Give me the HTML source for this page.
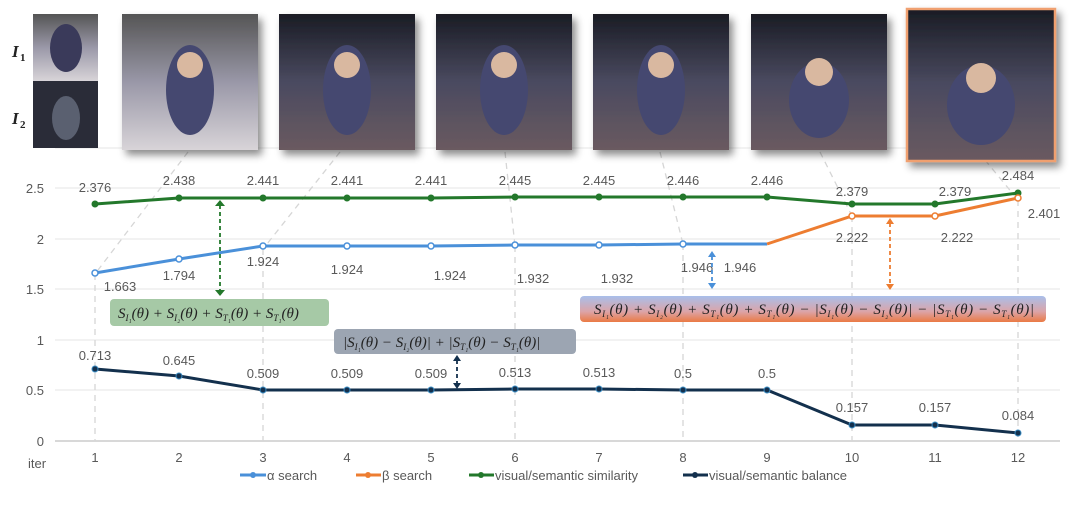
<!DOCTYPE html>
<html><head><meta charset="utf-8"><style>
body{margin:0;background:#fff;width:1080px;height:503px;overflow:hidden;font-family:"Liberation Sans",sans-serif}
</style></head><body>
<svg width="1080" height="503" viewBox="0 0 1080 503" xmlns="http://www.w3.org/2000/svg">
<defs>
<linearGradient id="g1" x1="0" y1="0" x2="0" y2="1"><stop offset="0" stop-color="#a9bfea"/><stop offset="0.6" stop-color="#dca4a8"/><stop offset="1" stop-color="#ea7a44"/></linearGradient>
<linearGradient id="im" x1="0" y1="0" x2="0" y2="1"><stop offset="0" stop-color="#1a1c24"/><stop offset="0.5" stop-color="#4a4a60"/><stop offset="1" stop-color="#6a5a60"/></linearGradient>
<linearGradient id="im1" x1="0" y1="0" x2="0" y2="1"><stop offset="0" stop-color="#555"/><stop offset="0.5" stop-color="#9a98a8"/><stop offset="1" stop-color="#d8d4d8"/></linearGradient>
<filter id="sh" x="-10%" y="-10%" width="130%" height="130%"><feDropShadow dx="4" dy="5" stdDeviation="4" flood-opacity="0.45"/></filter>
</defs>
<!-- grid -->
<g stroke="#e6e6e6" stroke-width="1">
<line x1="55" y1="188" x2="1060" y2="188"/><line x1="55" y1="239" x2="1060" y2="239"/><line x1="55" y1="289" x2="1060" y2="289"/><line x1="55" y1="340" x2="1060" y2="340"/><line x1="55" y1="390" x2="1060" y2="390"/>
<line x1="55" y1="441" x2="1060" y2="441" stroke="#d8d8d8" stroke-width="2"/>
<line x1="55" y1="148" x2="1040" y2="148"/>
</g>
<g stroke="#d6d6d6" stroke-width="1.3" stroke-dasharray="6,5" fill="none">
<line x1="188" y1="152" x2="95" y2="274"/><line x1="95" y1="274" x2="95" y2="441"/>
<line x1="340" y1="152" x2="263" y2="249"/><line x1="263" y1="249" x2="263" y2="441"/>
<line x1="505" y1="152" x2="515" y2="246"/><line x1="515" y1="246" x2="515" y2="441"/>
<line x1="660" y1="152" x2="683" y2="244"/><line x1="683" y1="244" x2="683" y2="441"/>
<line x1="820" y1="152" x2="852" y2="216"/><line x1="852" y1="216" x2="852" y2="441"/>
<line x1="985" y1="160" x2="1018" y2="200"/><line x1="1018" y1="200" x2="1018" y2="441"/>
</g>
<!-- images -->
<rect x="33" y="14" width="65" height="67" fill="url(#im1)"/>
<rect x="33" y="81" width="65" height="67" fill="#2a2c38"/>
<ellipse cx="66" cy="48" rx="16" ry="24" fill="#3a3a5a"/>
<ellipse cx="66" cy="118" rx="14" ry="22" fill="#5a6070"/>
<g filter="url(#sh)">
<rect x="122" y="14" width="136" height="136" fill="url(#im1)"/>
<rect x="279" y="14" width="136" height="136" fill="url(#im)"/>
<rect x="436" y="14" width="136" height="136" fill="url(#im)"/>
<rect x="593" y="14" width="136" height="136" fill="url(#im)"/>
<rect x="751" y="14" width="136" height="136" fill="url(#im)"/>
<rect x="907" y="9" width="148" height="152" fill="url(#im)" stroke="#f0a070" stroke-width="2.5"/>
</g>
<g fill="#454870">
<ellipse cx="190" cy="90" rx="24" ry="45"/><ellipse cx="347" cy="90" rx="24" ry="45"/><ellipse cx="504" cy="90" rx="24" ry="45"/><ellipse cx="661" cy="90" rx="24" ry="45"/><ellipse cx="819" cy="100" rx="30" ry="38"/><ellipse cx="981" cy="105" rx="34" ry="40"/>
</g>
<g fill="#d9b8a0"><circle cx="190" cy="65" r="13"/><circle cx="347" cy="65" r="13"/><circle cx="504" cy="65" r="13"/><circle cx="661" cy="65" r="13"/><circle cx="819" cy="72" r="14"/><circle cx="981" cy="78" r="15"/></g>
<g fill="#222" font-family="Liberation Serif,serif" font-weight="bold" font-style="italic" font-size="17"><text x="12" y="57">I</text><text x="12" y="124">I</text></g>
<g fill="#222" font-family="Liberation Serif,serif" font-weight="bold" font-size="11"><text x="20" y="61">1</text><text x="20" y="128">2</text></g>
<!-- axis labels -->
<g fill="#595959" font-size="13" text-anchor="end"><text x="44" y="193">2.5</text><text x="44" y="244">2</text><text x="44" y="294">1.5</text><text x="44" y="345">1</text><text x="44" y="395">0.5</text><text x="44" y="446">0</text></g>
<g fill="#595959" font-size="13" text-anchor="middle">
<text x="37" y="468">iter</text>
<text x="95" y="462">1</text><text x="179" y="462">2</text><text x="263" y="462">3</text><text x="347" y="462">4</text><text x="431" y="462">5</text><text x="515" y="462">6</text><text x="599" y="462">7</text><text x="683" y="462">8</text><text x="767" y="462">9</text><text x="852" y="462">10</text><text x="935" y="462">11</text><text x="1018" y="462">12</text>
</g>
<!-- lines -->
<polyline fill="none" stroke="#23782b" stroke-width="3" points="95,204 179,198 263,198 347,198 431,198 515,197 599,197 683,197 767,197 852,204 935,204 1018,193"/>
<g fill="#23782b"><circle cx="95" cy="204" r="3.5"/><circle cx="179" cy="198" r="3.5"/><circle cx="263" cy="198" r="3.5"/><circle cx="347" cy="198" r="3.5"/><circle cx="431" cy="198" r="3.5"/><circle cx="515" cy="197" r="3.5"/><circle cx="599" cy="197" r="3.5"/><circle cx="683" cy="197" r="3.5"/><circle cx="767" cy="197" r="3.5"/><circle cx="852" cy="204" r="3.5"/><circle cx="935" cy="204" r="3.5"/><circle cx="1018" cy="193" r="3.5"/></g>
<polyline fill="none" stroke="#4a90d9" stroke-width="3" points="95,273 179,259 263,246 347,246 431,246 515,245 599,245 683,244 767,244"/>
<polyline fill="none" stroke="#ed7d31" stroke-width="3" points="767,244 852,216 935,216 1018,198"/>
<g fill="#fff" stroke="#4a90d9" stroke-width="1.5"><circle cx="95" cy="273" r="3"/><circle cx="179" cy="259" r="3"/><circle cx="263" cy="246" r="3"/><circle cx="347" cy="246" r="3"/><circle cx="431" cy="246" r="3"/><circle cx="515" cy="245" r="3"/><circle cx="599" cy="245" r="3"/><circle cx="683" cy="244" r="3"/></g>
<g fill="#fff" stroke="#ed7d31" stroke-width="1.5"><circle cx="852" cy="216" r="3"/><circle cx="935" cy="216" r="3"/><circle cx="1018" cy="198" r="3"/></g>
<polyline fill="none" stroke="#13304d" stroke-width="3" points="95,369 179,376 263,390 347,390 431,390 515,389 599,389 683,390 767,390 852,425 935,425 1018,433"/>
<g fill="#13304d" stroke="#3a8ac0" stroke-width="1"><circle cx="95" cy="369" r="3"/><circle cx="179" cy="376" r="3"/><circle cx="263" cy="390" r="3"/><circle cx="347" cy="390" r="3"/><circle cx="431" cy="390" r="3"/><circle cx="515" cy="389" r="3"/><circle cx="599" cy="389" r="3"/><circle cx="683" cy="390" r="3"/><circle cx="767" cy="390" r="3"/><circle cx="852" cy="425" r="3"/><circle cx="935" cy="425" r="3"/><circle cx="1018" cy="433" r="3"/></g>
<!-- value labels -->
<g fill="#595959" font-size="13" text-anchor="middle">
<text x="95" y="192">2.376</text><text x="179" y="185">2.438</text><text x="263" y="185">2.441</text><text x="347" y="185">2.441</text><text x="431" y="185">2.441</text><text x="515" y="185">2.445</text><text x="599" y="185">2.445</text><text x="683" y="185">2.446</text><text x="767" y="185">2.446</text><text x="852" y="196">2.379</text><text x="955" y="196">2.379</text><text x="1018" y="180">2.484</text>
<text x="120" y="291">1.663</text><text x="179" y="280">1.794</text><text x="263" y="266">1.924</text><text x="347" y="274">1.924</text><text x="450" y="280">1.924</text><text x="533" y="283">1.932</text><text x="617" y="283">1.932</text><text x="697" y="272">1.946</text><text x="740" y="272">1.946</text>
<text x="852" y="242">2.222</text><text x="957" y="242">2.222</text><text x="1044" y="218">2.401</text>
<text x="95" y="360">0.713</text><text x="179" y="365">0.645</text><text x="263" y="378">0.509</text><text x="347" y="378">0.509</text><text x="431" y="378">0.509</text><text x="515" y="377">0.513</text><text x="599" y="377">0.513</text><text x="683" y="378">0.5</text><text x="767" y="378">0.5</text><text x="852" y="412">0.157</text><text x="935" y="412">0.157</text><text x="1018" y="420">0.084</text>
</g>
<!-- arrows -->
<g stroke-width="1.8" stroke-dasharray="4,3" fill="none">
<line x1="220" y1="205" x2="220" y2="291" stroke="#23782b"/>
<line x1="712" y1="256" x2="712" y2="284" stroke="#4a90d9"/>
<line x1="890" y1="223" x2="890" y2="285" stroke="#ed7d31"/>
<line x1="457" y1="360" x2="457" y2="384" stroke="#13304d"/>
</g>
<g><path d="M215,206 L225,206 L220,200Z M215,290 L225,290 L220,296Z" fill="#23782b"/>
<path d="M708,257 L716,257 L712,251Z M708,283 L716,283 L712,289Z" fill="#4a90d9"/>
<path d="M886,224 L894,224 L890,218Z M886,284 L894,284 L890,290Z" fill="#ed7d31"/>
<path d="M453,361 L461,361 L457,355Z M453,383 L461,383 L457,389Z" fill="#13304d"/></g>
<!-- formula boxes -->
<rect x="110" y="299" width="219" height="27" rx="4" fill="#a6c9a6"/>
<rect x="334" y="329" width="242" height="25" rx="4" fill="#9ca5b2"/>
<rect x="580" y="296" width="466" height="26" rx="4" fill="url(#g1)"/>
<g fill="#222" font-family="Liberation Serif,serif" font-style="italic" font-size="15">
<text x="118" y="318">S<tspan font-size="9" dy="3">I₁</tspan><tspan dy="-3">(θ) + S</tspan><tspan font-size="9" dy="3">I₂</tspan><tspan dy="-3">(θ) + S</tspan><tspan font-size="9" dy="3">T₁</tspan><tspan dy="-3">(θ) + S</tspan><tspan font-size="9" dy="3">T₁</tspan><tspan dy="-3">(θ)</tspan></text>
<text x="343" y="347">|S<tspan font-size="9" dy="3">I₁</tspan><tspan dy="-3">(θ) − S</tspan><tspan font-size="9" dy="3">I₂</tspan><tspan dy="-3">(θ)| + |S</tspan><tspan font-size="9" dy="3">T₁</tspan><tspan dy="-3">(θ) − S</tspan><tspan font-size="9" dy="3">T₁</tspan><tspan dy="-3">(θ)|</tspan></text>
<text x="594" y="314" textLength="440">S<tspan font-size="9" dy="3">I₁</tspan><tspan dy="-3">(θ) + S</tspan><tspan font-size="9" dy="3">I₂</tspan><tspan dy="-3">(θ) + S</tspan><tspan font-size="9" dy="3">T₁</tspan><tspan dy="-3">(θ) + S</tspan><tspan font-size="9" dy="3">T₁</tspan><tspan dy="-3">(θ) − |S</tspan><tspan font-size="9" dy="3">I₁</tspan><tspan dy="-3">(θ) − S</tspan><tspan font-size="9" dy="3">I₂</tspan><tspan dy="-3">(θ)| − |S</tspan><tspan font-size="9" dy="3">T₁</tspan><tspan dy="-3">(θ) − S</tspan><tspan font-size="9" dy="3">T₁</tspan><tspan dy="-3">(θ)|</tspan></text>
</g>
<!-- legend -->
<g stroke-width="3"><line x1="240" y1="475" x2="266" y2="475" stroke="#4a90d9"/><line x1="356" y1="475" x2="381" y2="475" stroke="#ed7d31"/><line x1="469" y1="475" x2="494" y2="475" stroke="#23782b"/><line x1="683" y1="475" x2="708" y2="475" stroke="#13304d"/></g>
<g><circle cx="253" cy="475" r="3" fill="#4a90d9"/><circle cx="368" cy="475" r="3" fill="#ed7d31"/><circle cx="481" cy="475" r="3" fill="#23782b"/><circle cx="695" cy="475" r="3" fill="#13304d"/></g>
<g fill="#595959" font-size="13"><text x="267" y="480">α search</text><text x="382" y="480">β search</text><text x="495" y="480">visual/semantic similarity</text><text x="709" y="480">visual/semantic balance</text></g>
</svg>
</body></html>
